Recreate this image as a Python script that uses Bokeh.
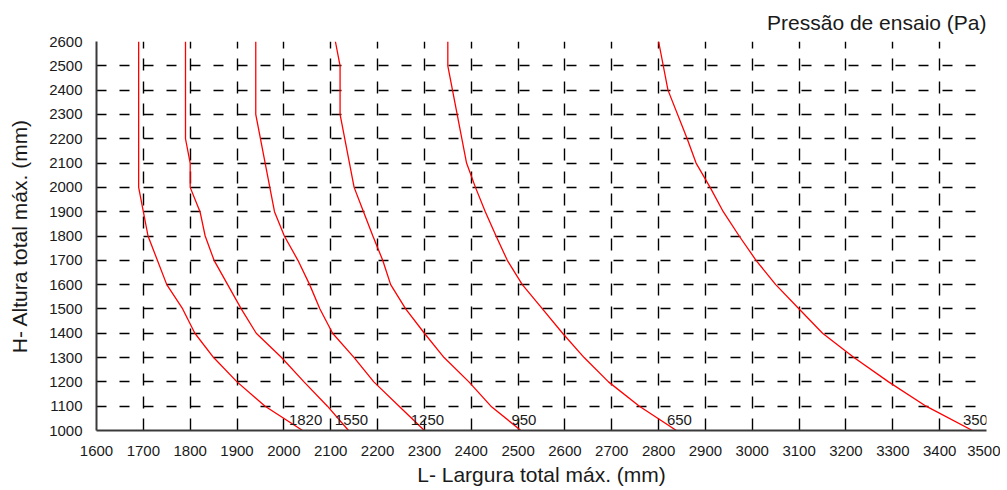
from bokeh.plotting import figure
from bokeh.models import Range1d, FixedTicker, ColumnDataSource
from bokeh.core.properties import value
from bokeh.embed import file_html
from bokeh.resources import INLINE

# ---- data ----
pressures = ["1820", "1550", "1250", "950", "650", "350"]

w_1820 = [1690, 1690, 1700, 1710, 1750, 1784, 1810, 1850, 1900, 1960, 2040]
h_1820 = [2600, 2000, 1900, 1800, 1600, 1500, 1400, 1300, 1200, 1100, 1000]

w_1550 = [1790, 1790, 1800, 1800, 1821, 1832, 1851, 1880, 1909, 1941, 1995, 2043, 2093, 2138]
h_1550 = [2600, 2200, 2100, 2000, 1900, 1800, 1700, 1600, 1500, 1400, 1300, 1200, 1100, 1000]

w_1250 = [1940, 1940, 1980, 2001, 2030, 2055, 2077, 2104, 2150, 2192, 2246, 2300]
h_1250 = [2600, 2300, 1900, 1800, 1700, 1600, 1500, 1400, 1300, 1200, 1100, 1000]

w_950 = [2110, 2120, 2120, 2150, 2170, 2190, 2211, 2228, 2260, 2300, 2342, 2395, 2442, 2506]
h_950 = [2600, 2500, 2300, 2000, 1900, 1800, 1700, 1600, 1500, 1400, 1300, 1200, 1100, 1000]

w_650 = [2350, 2350, 2390, 2409, 2430, 2453, 2477, 2509, 2552, 2595, 2641, 2693, 2759, 2838]
h_650 = [2600, 2500, 2100, 2000, 1900, 1800, 1700, 1600, 1500, 1400, 1300, 1200, 1100, 1000]

w_350 = [2800, 2820, 2861, 2880, 2910, 2938, 2972, 3008, 3050, 3100, 3150, 3217, 3291, 3371, 3470]
h_350 = [2600, 2400, 2200, 2100, 2000, 1900, 1800, 1700, 1600, 1500, 1400, 1300, 1200, 1100, 1000]

widths = [w_1820, w_1550, w_1250, w_950, w_650, w_350]
heights = [h_1820, h_1550, h_1250, h_950, h_650, h_350]

x_ticks = list(range(1600, 3501, 100))
y_ticks = list(range(1000, 2601, 100))

x_label = "L- Largura total máx. (mm)"
y_label = "H- Altura total máx. (mm)"
title_text = "Pressão de ensaio (Pa)"

FONT = "Liberation Sans"

p = figure(width=1000, height=489,
           x_range=Range1d(x_ticks[0], x_ticks[-1]),
           y_range=Range1d(y_ticks[0], y_ticks[-1]),
           output_backend="svg", toolbar_location=None,
           min_border_left=96, min_border_right=14,
           min_border_top=40, min_border_bottom=59)
p.outline_line_color = None
p.background_fill_color = "white"
p.border_fill_color = "white"

p.title.text = title_text
p.title.align = "right"
p.title.text_font = FONT
p.title.text_font_size = "21px"
p.title.text_font_style = "normal"
p.title.text_color = "#1a1a1a"
p.title.standoff = 16

for ax, ticks in ((p.xaxis, x_ticks), (p.yaxis, y_ticks)):
    ax.ticker = FixedTicker(ticks=ticks)
    ax.major_tick_line_color = None
    ax.minor_tick_line_color = None
    ax.major_tick_in = 0
    ax.major_tick_out = 0
    ax.axis_line_color = "#3a3a3a"
    ax.axis_line_width = 2
    ax.major_label_text_font = FONT
    ax.major_label_text_font_size = "15px"
    ax.major_label_text_color = "#1a1a1a"
    ax.axis_label_text_font = FONT
    ax.axis_label_text_font_size = "21px"
    ax.axis_label_text_font_style = "normal"
    ax.axis_label_text_color = "#1a1a1a"

p.xaxis.axis_label = x_label
p.yaxis.axis_label = y_label
p.xaxis.major_label_standoff = 15
p.yaxis.major_label_standoff = 14
p.xaxis.axis_label_standoff = 4
p.yaxis.axis_label_standoff = 15

p.xgrid.ticker = FixedTicker(ticks=x_ticks)
p.ygrid.ticker = FixedTicker(ticks=y_ticks)
p.xgrid.grid_line_color = "black"
p.ygrid.grid_line_color = "black"
p.xgrid.grid_line_width = 1.4
p.ygrid.grid_line_width = 1.4
p.ygrid.grid_line_dash = "10 13 10 14"
p.xgrid.grid_line_dash = "12 10 12 11"

for w, h in zip(widths, heights):
    p.line(w, h, line_color="red", line_width=1.3)

label_src = ColumnDataSource(dict(
    x=[w[-1] for w in widths],
    y=[h[-1] for h in heights],
    t=pressures,
))
p.text(x="x", y="y", text="t", source=label_src,
       text_align="center", text_baseline="bottom",
       x_offset=3, y_offset=-6,
       text_font=value(FONT), text_font_size="15px", text_color="#1a1a1a")

open("out.html", "w").write(file_html(p, INLINE))
